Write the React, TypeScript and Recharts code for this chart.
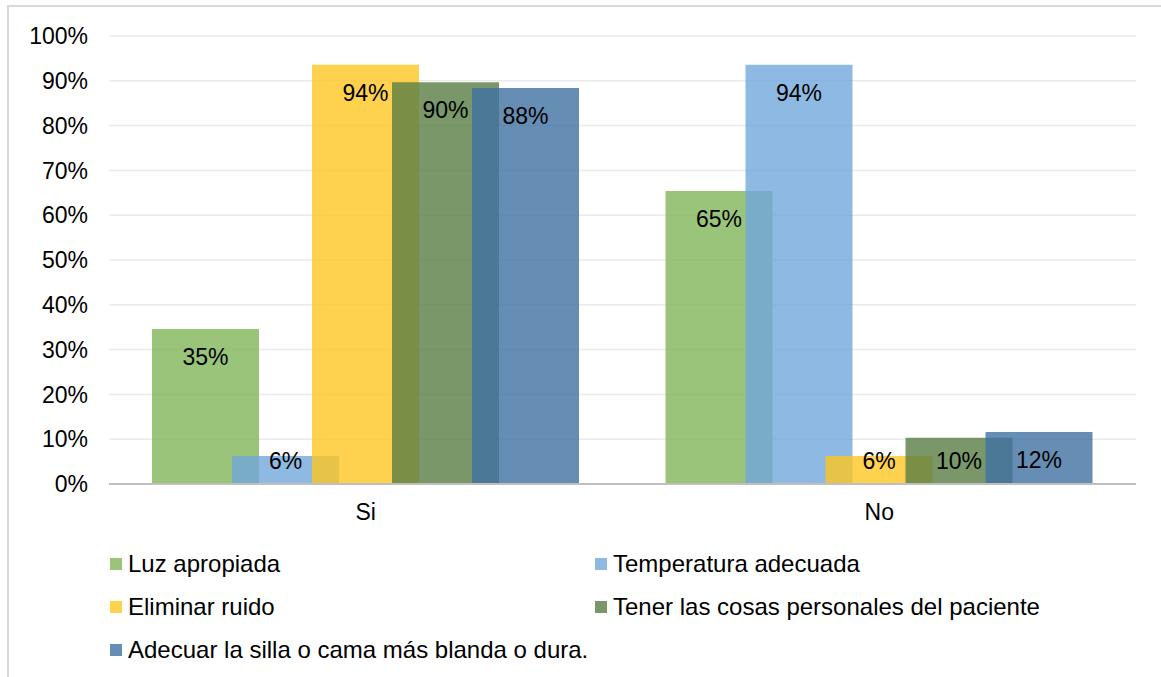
import { Bar, BarChart, CartesianGrid, LabelList, XAxis, YAxis } from "recharts";

const categories = ["Si", "No"];
const luzApropiada = [0.346, 0.654];
const temperaturaAdecuada = [0.0625, 0.936];
const eliminarRuido = [0.936, 0.0625];
const cosasPersonales = [0.897, 0.103];
const adecuarSilla = [0.884, 0.116];
const yTicks = [0, 0.1, 0.2, 0.3, 0.4, 0.5, 0.6, 0.7, 0.8, 0.9, 1];

const series = [
  { key: "luz", name: "Luz apropiada", color: "#82b55a", swatch: "#9bc47b", values: luzApropiada },
  { key: "temp", name: "Temperatura adecuada", color: "#71a7db", swatch: "#8db9e2", values: temperaturaAdecuada },
  { key: "ruido", name: "Eliminar ruido", color: "#fec722", swatch: "#fed24e", values: eliminarRuido },
  { key: "cosas", name: "Tener las cosas personales del paciente", color: "#597d45", swatch: "#7a976a", values: cosasPersonales },
  { key: "silla", name: "Adecuar la silla o cama más blanda o dura.", color: "#4070a1", swatch: "#668db4", values: adecuarSilla },
];

const data = categories.map((name, i) => {
  const row: Record<string, string | number> = { name };
  series.forEach((s) => (row[s.key] = s.values[i]));
  return row;
});

const font = "'Liberation Sans', Arial, sans-serif";

function ValueLabel(props: any) {
  const { x, y, width, height, value } = props;
  const cy = Math.min(y + 28, y + height - 23);
  return (
    <text x={x + width / 2} y={cy} textAnchor="middle" dominantBaseline="central" fontSize={23} fontFamily={font} fill="#000">
      {Math.round(value * 100) + "%"}
    </text>
  );
}

export default function App() {
  return (
    <div style={{ position: "absolute", left: 0, top: 0, width: 1161, height: 677, background: "#fff", fontFamily: font }}>
      <div style={{ position: "absolute", left: 7, top: 5, width: 1160, height: 690, border: "2px solid #d9d9d9", boxSizing: "border-box" }} />
      <div style={{ position: "absolute", left: 0, top: 0 }}>
        <BarChart width={1161} height={540} data={data} margin={{ top: 36, right: 25, left: 0, bottom: 26 }} barSize={107} barGap={-27}>
          <CartesianGrid vertical={false} stroke="#ebebeb" strokeWidth={1.5} />
          <XAxis dataKey="name" axisLine={{ stroke: "#bfbfbf", strokeWidth: 2 }} tickLine={false} tick={{ fill: "#000", fontSize: 23, fontFamily: font }} tickMargin={14} />
          <YAxis
            width={109}
            domain={[0, 1]}
            ticks={yTicks}
            axisLine={false}
            tickLine={false}
            tickSize={0}
            tickMargin={21}
            tickFormatter={(v: number) => Math.round(v * 100) + "%"}
            tick={{ fill: "#000", fontSize: 23, fontFamily: font }}
          />
          {series.map((s) => (
            <Bar key={s.key} dataKey={s.key} name={s.name} fill={s.color} fillOpacity={0.8} isAnimationActive={false}>
              <LabelList dataKey={s.key} content={ValueLabel} />
            </Bar>
          ))}
        </BarChart>
      </div>
      <div style={{ position: "absolute", left: 110, top: 551, width: 1000, display: "grid", gridTemplateColumns: "485px 500px", rowGap: 17 }}>
        {series.map((s) => (
          <div key={s.key} style={{ display: "flex", alignItems: "center", height: 26, fontSize: 24, color: "#000", whiteSpace: "nowrap" }}>
            <span style={{ display: "inline-block", width: 12, height: 12, background: s.swatch, marginRight: 6 }} />
            {s.name}
          </div>
        ))}
      </div>
    </div>
  );
}
